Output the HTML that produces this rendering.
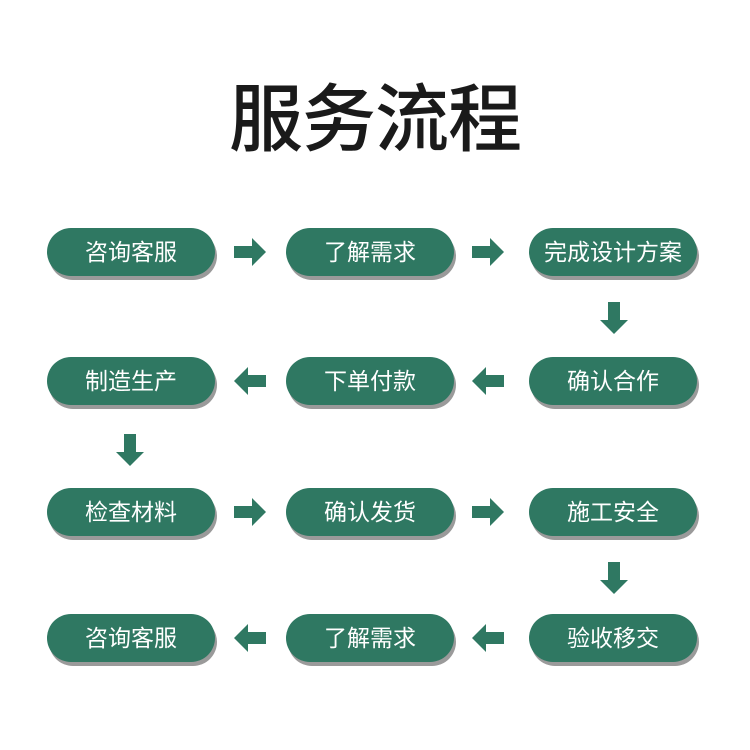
<!DOCTYPE html>
<html><head><meta charset="utf-8"><style>
body{margin:0;width:750px;height:750px;background:#fff;position:relative;overflow:hidden;font-family:"Liberation Sans","Noto Sans CJK SC",sans-serif}
.t{position:absolute;left:0;width:750px;top:72px;text-align:center;font-size:74px;font-weight:500;color:#1a1a1a;line-height:96px;letter-spacing:-1px}
.p{position:absolute;width:168px;height:48px;border-radius:24px;background:#2f7862;color:#fff;font-size:23px;line-height:48px;text-align:center;box-shadow:2px 4px 0 #9a9a9a}
.a{position:absolute}
</style></head><body>
<div class="t">服务流程</div>

<div class="p" style="left:47px;top:228px">咨询客服</div>
<div class="p" style="left:286px;top:228px">了解需求</div>
<div class="p" style="left:529px;top:228px">完成设计方案</div>

<div class="p" style="left:47px;top:357px">制造生产</div>
<div class="p" style="left:286px;top:357px">下单付款</div>
<div class="p" style="left:529px;top:357px">确认合作</div>

<div class="p" style="left:47px;top:488px">检查材料</div>
<div class="p" style="left:286px;top:488px">确认发货</div>
<div class="p" style="left:529px;top:488px">施工安全</div>

<div class="p" style="left:47px;top:614px">咨询客服</div>
<div class="p" style="left:286px;top:614px">了解需求</div>
<div class="p" style="left:529px;top:614px">验收移交</div>

<svg class="a" style="left:0;top:0" width="750" height="750">
<defs>
<path id="r" d="M0,-6 H18 V-14 L32,0 L18,14 V6 H0 Z" fill="#2f7862"/>
</defs>
<use href="#r" x="234" y="252"/>
<use href="#r" x="472" y="252"/>
<use href="#r" transform="translate(266,381) scale(-1,1)"/>
<use href="#r" transform="translate(504,381) scale(-1,1)"/>
<use href="#r" x="234" y="512"/>
<use href="#r" x="472" y="512"/>
<use href="#r" transform="translate(266,638) scale(-1,1)"/>
<use href="#r" transform="translate(504,638) scale(-1,1)"/>
<use href="#r" transform="translate(614,302) rotate(90)"/>
<use href="#r" transform="translate(130,434) rotate(90)"/>
<use href="#r" transform="translate(614,562) rotate(90)"/>
</svg>
</body></html>
